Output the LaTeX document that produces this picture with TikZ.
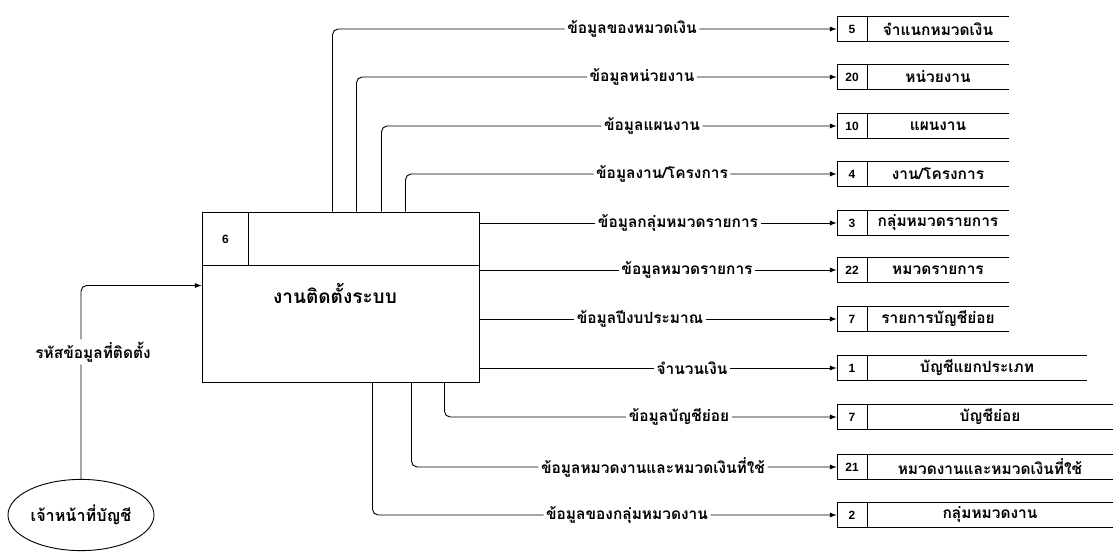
\documentclass[tikz,border=0pt]{standalone}
\usepackage{fontspec}
\setmainfont[Script=Thai]{Loma}
\newfontfamily\numfont{Liberation Sans}
\usetikzlibrary{shapes.geometric,positioning,calc}

\tikzset{
  flow/.style={draw=black, ->, rounded corners=4pt},
  lbl/.style={inner sep=1.5pt, font=\fontsize{11}{12}\selectfont\bfseries},
  numcell/.style={draw, minimum width=0.75cm, minimum height=0.625cm, inner sep=0pt,
    font=\numfont\fontsize{8.5}{9}\selectfont\bfseries},
  storename/.style={minimum height=0.625cm, inner sep=0pt, outer sep=0pt,
    font=\fontsize{11}{12}\selectfont\bfseries,
    append after command={(\tikzlastnode.north west) edge (\tikzlastnode.north east)
      (\tikzlastnode.south west) edge (\tikzlastnode.south east)}}
}

\begin{document}
\begin{tikzpicture}[x=0.025cm, y=-0.025cm, line width=0.65pt, >=latex]
	\useasboundingbox (0,0) rectangle (1116,553);
	% process 6
	\node [draw, minimum width=6.925cm, minimum height=4.25cm, inner sep=0pt] (proc) at (340.5,297) {};
	\draw ($(proc.north west)+(0,54)$) -- ($(proc.north east)+(0,54)$);
	\draw ($(proc.north west)+(47,0)$) -- ($(proc.north west)+(47,54)$);
	\node [font=\numfont\fontsize{8.5}{9}\selectfont\bfseries] (pid) at (225.5,239) {6};
	\node [font=\fontsize{13.5}{14}\selectfont\bfseries] (ptitle) at (335,293) {งานติดตั้งระบบ};
	% external entity
	\node [ellipse, draw, minimum width=3.65cm, minimum height=1.78cm, inner sep=0pt,
	  font=\fontsize{11.5}{12}\selectfont\bfseries] (ent) at (81,515) {เจ้าหน้าที่บัญชี};
	\node [lbl] (lc) at (93,352) {รหัสข้อมูลที่ติดตั้ง};
	\draw [flow] (ent) -- (ent |- lc.south) (ent |- lc.north) |- ($(proc.north west)+(0,74)$);
	% data stores
	\node [numcell] (d1) at (852,29) {5};
	\node [storename, minimum width=3.525cm, right=0pt of d1] (n1) {จำแนกหมวดเงิน};
	\node [numcell] (d2) at (852,77) {20};
	\node [storename, minimum width=3.525cm, right=0pt of d2] (n2) {หน่วยงาน};
	\node [numcell] (d3) at (852,126) {10};
	\node [storename, minimum width=3.525cm, right=0pt of d3] (n3) {แผนงาน};
	\node [numcell] (d4) at (852,174) {4};
	\node [storename, minimum width=3.525cm, right=0pt of d4] (n4) {งาน/โครงการ};
	\node [numcell] (d5) at (852,223) {3};
	\node [storename, minimum width=3.525cm, right=0pt of d5] (n5) {กลุ่มหมวดรายการ};
	\node [numcell] (d6) at (852,270) {22};
	\node [storename, minimum width=3.525cm, right=0pt of d6] (n6) {หมวดรายการ};
	\node [numcell] (d7) at (852,319) {7};
	\node [storename, minimum width=3.525cm, right=0pt of d7] (n7) {รายการบัญชีย่อย};
	\node [numcell] (d8) at (852,368) {1};
	\node [storename, minimum width=5.475cm, right=0pt of d8] (n8) {บัญชีแยกประเภท};
	\node [numcell] (d9) at (852,417) {7};
	\node [storename, minimum width=6.125cm, right=0pt of d9] (n9) {บัญชีย่อย};
	\node [numcell] (d10) at (852,467) {21};
	\node [storename, minimum width=6.125cm, right=0pt of d10] (n10) {หมวดงานและหมวดเงินที่ใช้};
	\node [numcell] (d11) at (852,515) {2};
	\node [storename, minimum width=6.125cm, right=0pt of d11] (n11) {กลุ่มหมวดงาน};
	% flows out of the top
	\node [lbl] (l1) at (632,29) {ข้อมูลของหมวดเงิน};
	\draw [flow] ($(proc.north west)+(131,0)$) |- (l1) -- (d1);
	\node [lbl] (l2) at (642,77) {ข้อมูลหน่วยงาน};
	\draw [flow] ($(proc.north west)+(155,0)$) |- (l2) -- (d2);
	\node [lbl] (l3) at (652,126) {ข้อมูลแผนงาน};
	\draw [flow] ($(proc.north west)+(180,0)$) |- (l3) -- (d3);
	\node [lbl] (l4) at (662,174) {ข้อมูลงาน/โครงการ};
	\draw [flow] ($(proc.north west)+(204,0)$) |- (l4) -- (d4);
	% flows out of the right side
	\node [lbl] (l5) at (678,223) {ข้อมูลกลุ่มหมวดรายการ};
	\draw [flow] (proc.east |- l5) -- (l5) -- (d5);
	\node [lbl] (l6) at (687,270) {ข้อมูลหมวดรายการ};
	\draw [flow] (proc.east |- l6) -- (l6) -- (d6);
	\node [lbl] (l7) at (640,319) {ข้อมูลปีงบประมาณ};
	\draw [flow] (proc.east |- l7) -- (l7) -- (d7);
	\node [lbl] (l8) at (692,368) {จำนวนเงิน};
	\draw [flow] (proc.east |- l8) -- (l8) -- (d8);
	% flows out of the bottom
	\node [lbl] (l9) at (679,417) {ข้อมูลบัญชีย่อย};
	\draw [flow] ($(proc.south west)+(243,0)$) |- (l9) -- (d9);
	\node [lbl] (l10) at (653,467) {ข้อมูลหมวดงานและหมวดเงินที่ใช้};
	\draw [flow] ($(proc.south west)+(210,0)$) |- (l10) -- (d10);
	\node [lbl] (l11) at (627,515) {ข้อมูลของกลุ่มหมวดงาน};
	\draw [flow] ($(proc.south west)+(171,0)$) |- (l11) -- (d11);
\end{tikzpicture}
\end{document}
